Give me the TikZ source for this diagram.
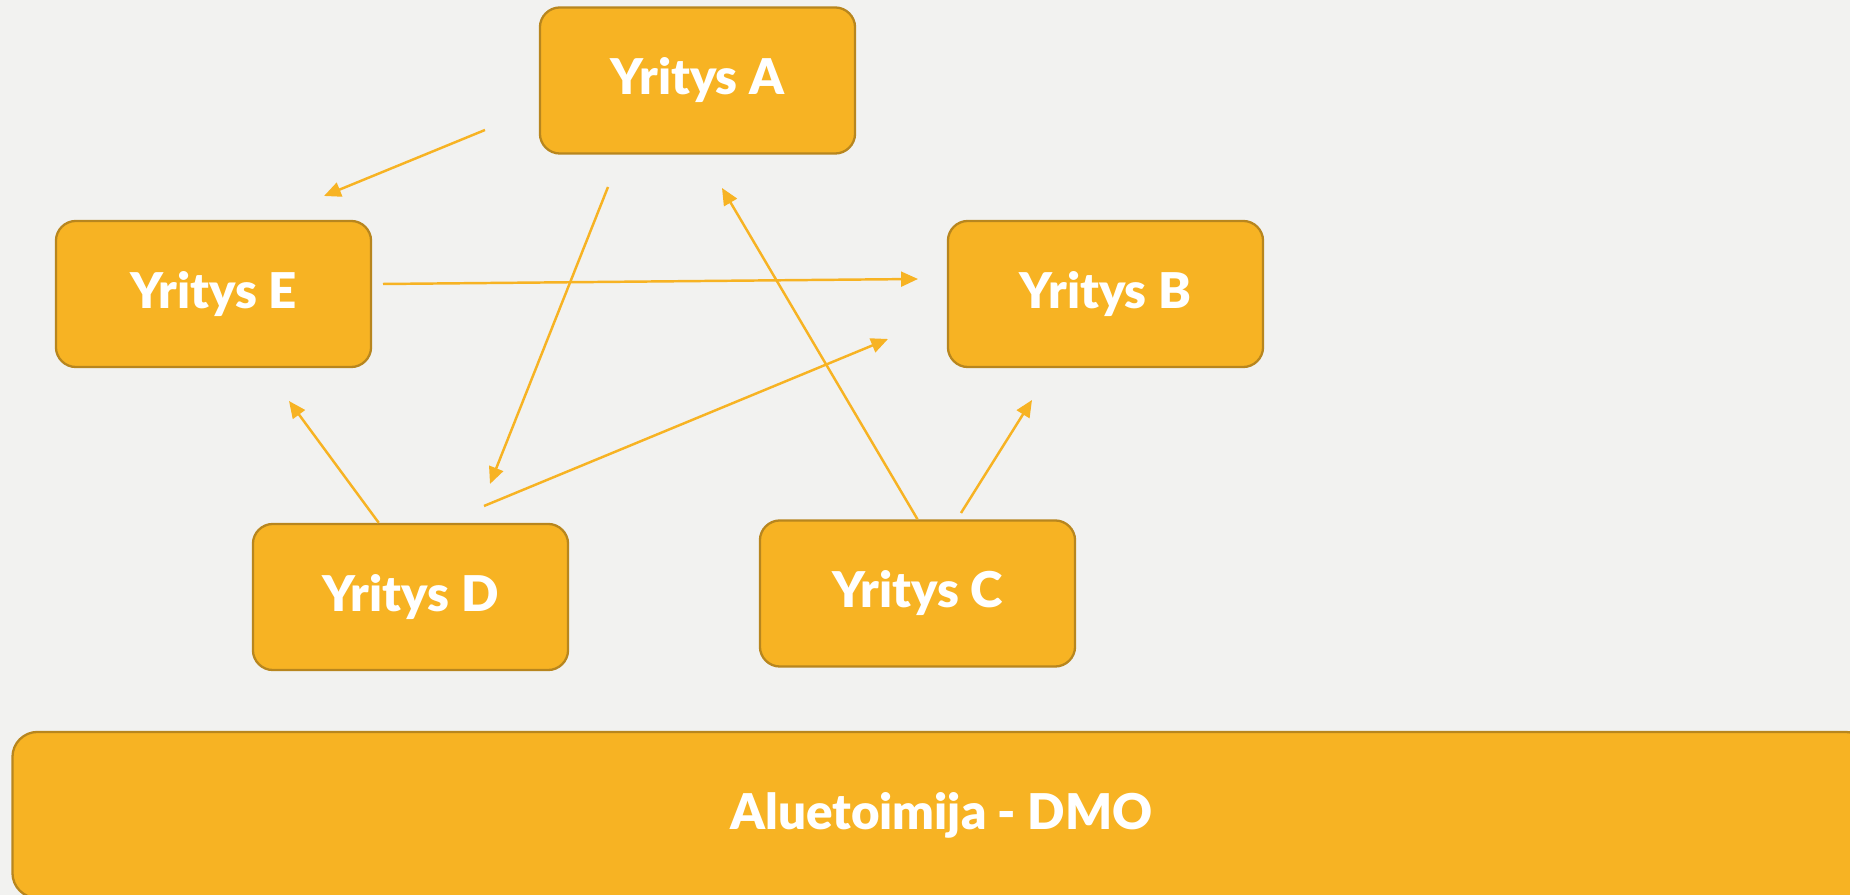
\documentclass[tikz,border=0pt]{standalone}
\usepackage{fontspec}
\setmainfont{Lato}
\newfontfamily\heavyfont{Lato Black}
\usepackage{tikz}
\usetikzlibrary{arrows.meta,calc}
\definecolor{firmFill}{HTML}{F7B323}
\definecolor{firmLine}{HTML}{B8861E}
\definecolor{pageBg}{HTML}{F2F2F0}

\begin{document}
\begin{tikzpicture}[
                x=0.01cm,y=-0.01cm,
                firm/.style={rounded corners=2mm,fill=firmFill,draw=firmLine,line width=0.65pt,
                            minimum width=3.15cm,minimum height=1.46cm,inner sep=0pt,
                            font=\heavyfont\fontsize{14}{16}\selectfont,text=white},
                region/.style={firm,rounded corners=2.5mm,minimum width=18.57cm,minimum height=1.66cm},
                link/.style={draw=firmFill,line width=0.7pt,-{Triangle[length=4.8pt,width=4.2pt]}}
            ]
                \useasboundingbox (0,0) rectangle (1850,895);
                \clip (0,0) rectangle (1850,895);
                \fill[pageBg] (0,0) rectangle (1850,895);

                \node[firm] (yA) at (697.5,80.5) {Yritys A};
                \node[firm] (yE) at (213.5,294) {Yritys E};
                \node[firm] (yB) at (1105.5,294) {Yritys B};
                \node[firm] (yD) at (410.5,597) {Yritys D};
                \node[firm] (yC) at (917.5,593.5) {Yritys C};
                \node[region] (dmo) at (941.5,815) {Aluetoimija - DMO};

                % free ends of the links
                \coordinate (aOut1) at (485,130);
                \coordinate (eIn) at (324,196);
                \coordinate (aOut2) at (608,187);
                \coordinate (dIn) at (490,484);
                \coordinate (eOut) at (383,284);
                \coordinate (bIn1) at (918,279);
                \coordinate (aIn) at (722,188);
                \coordinate (dOut) at (484,506);
                \coordinate (bIn2) at (888,339);
                \coordinate (eIn2) at (289,401);
                \coordinate (cOut) at (961,513);
                \coordinate (bIn3) at (1032,400);

                \draw[link] (aOut1) -- (eIn);
                \draw[link] (aOut2) -- (dIn);
                \draw[link] (eOut) -- (bIn1);
                \draw[link] (yC.north) -- (aIn);
                \draw[link] (dOut) -- (bIn2);
                \draw[link] ($(yD.north west)!0.4!(yD.north east)$) -- (eIn2);
                \draw[link] (cOut) -- (bIn3);
            \end{tikzpicture}
\end{document}
